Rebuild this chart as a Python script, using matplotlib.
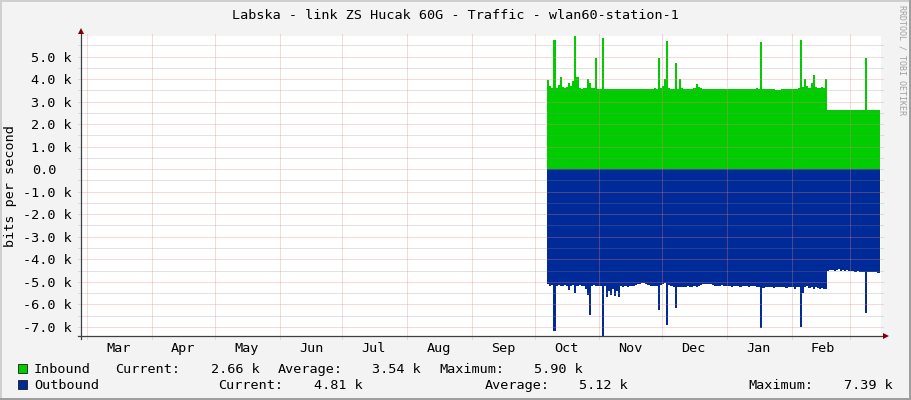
import matplotlib
matplotlib.use('Agg')
import matplotlib.pyplot as plt
from matplotlib.patches import Rectangle
from matplotlib.transforms import blended_transform_factory
import numpy as np
import pandas as pd

# ---- data (values in k bits per second) ----
title = 'Labska - link ZS Hucak 60G - Traffic - wlan60-station-1'
first_day = '2024-10-07'

inbound_k = [
    3.95, 3.70, 3.60, 5.75, 3.62, 3.75, 4.10,
    3.65, 3.60, 3.65, 3.85, 3.70, 3.90, 5.90,
    4.10, 3.60, 3.58, 3.62, 3.60, 4.00, 3.85,
    3.62, 3.60, 4.93, 3.55, 3.57, 5.82, 3.55,
    3.58, 3.56, 3.55, 3.58, 3.56, 3.55, 3.55,
    3.56, 3.55, 3.55, 3.55, 3.57, 3.55, 3.55,
    3.55, 3.56, 3.55, 3.55, 3.56, 3.55, 3.55,
    3.55, 3.58, 3.62, 3.56, 4.93, 3.60, 3.70,
    4.00, 5.70, 3.60, 3.58, 3.55, 4.74, 3.56,
    4.00, 3.60, 3.56, 3.55, 3.58, 3.55, 3.56,
    3.62, 3.79, 3.65, 3.60, 3.56, 3.55, 3.55,
    3.55, 3.56, 3.55, 3.55, 3.55, 3.57, 3.55,
    3.55, 3.55, 3.56, 3.55, 3.55, 3.55, 3.55,
    3.56, 3.55, 3.55, 3.55, 3.55, 3.56, 3.55,
    3.55, 3.58, 3.60, 3.55, 5.67, 3.55, 3.55,
    3.58, 3.55, 3.56, 3.55, 3.52, 3.52, 3.53,
    3.55, 3.58, 3.55, 3.55, 3.55, 3.55, 3.58,
    3.55, 3.60, 5.75, 3.65, 4.00, 3.70, 3.60,
    3.85, 4.19, 3.65, 3.60, 3.60, 3.65, 3.60,
    4.00, 2.65, 2.65, 2.65, 2.65, 2.65, 2.65,
    2.65, 2.65, 2.65, 2.65, 2.65, 2.65, 2.65,
    2.65, 2.65, 2.65, 2.65, 2.65, 4.93, 2.65,
    2.65, 2.65, 2.65, 2.65, 2.65, 2.66,
]

outbound_k = [
    -5.10, -5.20, -5.15, -7.17, -5.20, -5.15, -5.20,
    -5.18, -5.15, -5.20, -5.36, -5.20, -5.15, -5.50,
    -5.20, -5.15, -5.18, -5.20, -5.30, -5.60, -6.47,
    -5.20, -5.15, -5.20, -5.18, -5.20, -7.39, -5.20,
    -5.66, -5.40, -5.60, -5.30, -5.62, -5.40, -5.66,
    -5.20, -5.22, -5.20, -5.22, -5.20, -5.18, -5.20,
    -5.15, -5.12, -5.08, -5.05, -5.05, -5.10, -5.15,
    -5.18, -5.20, -5.18, -5.20, -6.25, -5.15, -5.10,
    -5.05, -6.92, -5.15, -5.20, -5.25, -6.18, -5.25,
    -5.22, -5.25, -5.22, -5.25, -5.20, -5.22, -5.25,
    -5.20, -5.22, -5.18, -5.15, -5.12, -5.10, -5.12,
    -5.10, -5.12, -5.15, -5.18, -5.20, -5.18, -5.15,
    -5.18, -5.20, -5.18, -5.20, -5.22, -5.20, -5.18,
    -5.20, -5.22, -5.20, -5.18, -5.20, -5.22, -5.20,
    -5.18, -5.20, -5.25, -5.22, -7.07, -5.28, -5.22,
    -5.25, -5.22, -5.25, -5.28, -5.25, -5.22, -5.25,
    -5.22, -5.25, -5.28, -5.25, -5.22, -5.25, -5.30,
    -5.25, -5.22, -7.00, -5.50, -5.25, -5.20, -5.28,
    -5.22, -5.30, -5.25, -5.28, -5.30, -5.28, -5.30,
    -5.30, -4.50, -4.48, -4.46, -4.50, -4.48, -4.45,
    -4.50, -4.48, -4.52, -4.48, -4.50, -4.52, -4.50,
    -4.55, -4.52, -4.55, -4.55, -4.55, -6.40, -4.55,
    -4.55, -4.55, -4.58, -4.55, -4.62, -4.80,
]

month_labels = ['Mar', 'Apr', 'May', 'Jun', 'Jul', 'Aug',
                'Sep', 'Oct', 'Nov', 'Dec', 'Jan', 'Feb']
y_major = [-7, -6, -5, -4, -3, -2, -1, 0, 1, 2, 3, 4, 5]
y_minor = [-6.5, -5.5, -4.5, -3.5, -2.5, -1.5, -0.5, 0.5, 1.5, 2.5, 3.5, 4.5, 5.5]

in_stats = ['2.66 k', '3.54 k', '5.90 k']    # current, average, maximum
out_stats = ['4.81 k', '5.12 k', '7.39 k']

# ---- figure ----
W, H = 911, 400
FS = 9.7
plt.rcParams['font.family'] = 'DejaVu Sans Mono'
plt.rcParams['font.size'] = FS

def fx(x):
    return x / W

def fy(y):
    return 1 - y / H

fig = plt.figure(figsize=(W / 100, H / 100), dpi=100, facecolor='#F3F3F3')
ax = fig.add_axes([fx(81), fy(336), 800 / W, 300 / H])
ax.set_facecolor('white')
for s in ax.spines.values():
    s.set_visible(False)

days = pd.date_range(first_day, periods=len(inbound_k), freq='D').values
t = np.append(days, days[-1] + np.timedelta64(6, 'h'))
ins = inbound_k + [inbound_k[-1]]
outs = outbound_k + [outbound_k[-1]]
ax.fill_between(t, 0, ins, step='post', color='#00CC00', lw=0, zorder=1)
ax.fill_between(t, 0, outs, step='post', color='#002A97', lw=0, zorder=1)

ax.set_xlim(np.datetime64('2024-02-27T00:00'), np.datetime64('2025-03-15T17:00'))
ax.set_ylim(-7.41, 5.92)

# grid, drawn over the areas like rrdtool does
minor_style = dict(color=(0.55, 0.55, 0.55, 0.5), lw=0.72, ls=(0, (1, 1)), zorder=3, clip_on=False)
major_style = dict(color=(0.96, 0.5, 0.5, 0.6), lw=0.72, ls=(0, (1, 1)), zorder=3, clip_on=False)
for v in y_minor:
    ax.axhline(v, xmin=-3 / 800, xmax=1 + 2 / 800, **minor_style)
for v in y_major:
    ax.axhline(v, xmin=-3 / 800, xmax=1 + 2 / 800, **major_style)
month_starts = pd.date_range('2024-03-01', '2025-03-01', freq='MS')
for m in month_starts.values:
    ax.axvline(m, ymin=-3 / 300, ymax=1 + 3 / 300, **major_style)

# axes with arrows
ax.plot([-3 / 800, 1 + 2 / 800], [0, 0], transform=ax.transAxes, color='#404040',
        lw=0.9, clip_on=False, zorder=4)
ax.plot([-0.5 / 800, -0.5 / 800], [-3 / 300, 1 + 4 / 300], transform=ax.transAxes,
        color='#404040', lw=0.9, clip_on=False, zorder=4)
ax.plot([1 + 5 / 800], [0], marker='>', ms=4, color='#800000', mew=0,
        transform=ax.transAxes, clip_on=False, zorder=5)
ax.plot([-0.5 / 800], [1 + 5 / 300], marker='^', ms=4, color='#800000', mew=0,
        transform=ax.transAxes, clip_on=False, zorder=5)

# ticks
ax.set_yticks(y_major)
ax.set_yticklabels([f'{v:.1f} k' if v != 0 else '' for v in y_major])
ax.tick_params(axis='y', length=0, pad=6.8, labelsize=FS)
zero_tr = blended_transform_factory(fig.transFigure, ax.transData)
ax.text(fx(56.7), 0, '0.0', transform=zero_tr, ha='right', va='center_baseline', fontsize=FS)

label_days = (month_starts[:-1] + pd.Timedelta(days=15)).values
ax.set_xticks(label_days)
ax.set_xticklabels(month_labels)
ax.tick_params(axis='x', length=0, pad=4, labelsize=FS)

# texts
fig.text(fx(455), fy(19), title, ha='center', va='baseline', fontsize=FS)
fig.text(fx(11), fy(186), 'bits per second', rotation=90, ha='center', va='center', fontsize=FS)
fig.text(fx(902), fy(60), 'RRDTOOL / TOBI OETIKER', rotation=270, ha='center', va='center',
         fontsize=6, color='#A0A0A0')

# legend
rows = [
    ('#00CC00', 373.3, 'Inbound', in_stats, [34, 115.5, 211, 278, 372.5, 439.5, 533.5]),
    ('#002A97', 389.0, 'Outbound', out_stats, [34, 218.3, 314.5, 485, 578.8, 748.7, 844.3]),
]
for color, base, name, stats, xs in rows:
    fig.add_artist(Rectangle((fx(17.5), fy(base)), 9.5 / W, 9.5 / H, transform=fig.transFigure,
                             facecolor=color, edgecolor='#1a1a1a', lw=0.6))
    parts = [name, 'Current:', stats[0], 'Average:', stats[1], 'Maximum:', stats[2]]
    for x, s in zip(xs, parts):
        fig.text(fx(x), fy(base), s, ha='left', va='baseline', fontsize=FS)

# 3d frame
fig.add_artist(Rectangle((0, fy(2)), 1, 2 / H, transform=fig.transFigure, color='#CFCFCF', lw=0))
fig.add_artist(Rectangle((0, 0), 2 / W, 1, transform=fig.transFigure, color='#CFCFCF', lw=0))
fig.add_artist(Rectangle((0, 0), 1, 2 / H, transform=fig.transFigure, color='#9E9E9E', lw=0))
fig.add_artist(Rectangle((fx(909), 0), 2 / W, 1, transform=fig.transFigure, color='#9E9E9E', lw=0))

fig.savefig('out.png', dpi=100, facecolor=fig.get_facecolor())
